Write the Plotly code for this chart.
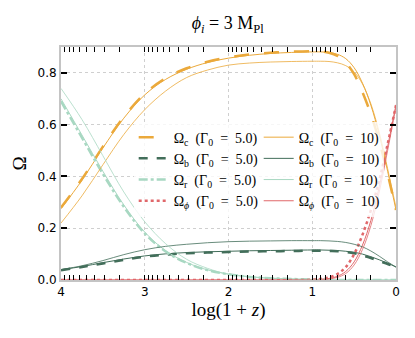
import numpy as np
import plotly.graph_objects as go

# log(1+z) sample points
log_1pz = [4, 3.75, 3.5, 3.25, 3, 2.75, 2.5, 2.25, 2, 1.75, 1.5, 1.25, 1,
           0.9, 0.8, 0.7, 0.6, 0.5, 0.4, 0.3, 0.2, 0.1, 0]

# Gamma_0 = 5.0 run (thick, broken lines)
omega_c_g5 = [0.28, 0.39, 0.515, 0.63, 0.72, 0.78, 0.818, 0.843, 0.86, 0.871, 0.878, 0.882, 0.884,
              0.883, 0.878, 0.866, 0.84, 0.795, 0.725, 0.64, 0.535, 0.41, 0.27]
omega_b_g5 = [0.038, 0.05, 0.064, 0.078, 0.09, 0.098, 0.103, 0.106, 0.108, 0.11, 0.111, 0.112, 0.113,
              0.113, 0.112, 0.111, 0.108, 0.103, 0.095, 0.085, 0.073, 0.062, 0.05]
omega_r_g5 = [0.69, 0.55, 0.41, 0.283, 0.18, 0.11, 0.066, 0.038, 0.022, 0.012, 0.007, 0.004, 0.002,
              0.001, 0.001, 0, 0, 0, 0, 0, 0, 0, 0]
omega_phi_g5 = [0, 0, 0, 0, 0, 0, 0, 0, 0, 0, 0, 0, 0.001,
                0.004, 0.01, 0.023, 0.05, 0.1, 0.175, 0.27, 0.385, 0.525, 0.675]

# Gamma_0 = 10 run (thin solid)
omega_c_g10 = [0.275, 0.385, 0.51, 0.625, 0.715, 0.775, 0.814, 0.84, 0.857, 0.868, 0.875, 0.879, 0.881,
               0.881, 0.879, 0.872, 0.855, 0.82, 0.76, 0.675, 0.56, 0.42, 0.27]
omega_b_g10 = [0.04, 0.052, 0.067, 0.081, 0.093, 0.101, 0.106, 0.109, 0.111, 0.113, 0.114, 0.115, 0.116,
               0.116, 0.115, 0.114, 0.111, 0.107, 0.1, 0.09, 0.078, 0.065, 0.05]
omega_r_g10 = [0.7, 0.56, 0.42, 0.29, 0.185, 0.113, 0.068, 0.039, 0.023, 0.013, 0.007, 0.004, 0.002,
               0.001, 0.001, 0, 0, 0, 0, 0, 0, 0, 0]
omega_phi_g10 = [0, 0, 0, 0, 0, 0, 0, 0, 0, 0, 0, 0, 0,
                 0.002, 0.006, 0.014, 0.033, 0.07, 0.135, 0.23, 0.36, 0.515, 0.677]

# extra thin solid run (no legend entry)
omega_c_alt = [0.22, 0.325, 0.445, 0.562, 0.658, 0.73, 0.782, 0.811, 0.83, 0.838, 0.842, 0.844, 0.845,
               0.845, 0.844, 0.839, 0.828, 0.804, 0.757, 0.68, 0.57, 0.43, 0.28]
omega_b_alt = [0.04, 0.055, 0.075, 0.098, 0.117, 0.13, 0.138, 0.144, 0.148, 0.15, 0.151, 0.152, 0.152,
               0.152, 0.151, 0.149, 0.145, 0.138, 0.128, 0.112, 0.092, 0.07, 0.05]
omega_r_alt = [0.74, 0.62, 0.48, 0.34, 0.225, 0.14, 0.08, 0.045, 0.022, 0.012, 0.007, 0.004, 0.002,
               0.001, 0, 0, 0, 0, 0, 0, 0, 0, 0]
omega_phi_alt = [0, 0, 0, 0, 0, 0, 0, 0, 0, 0, 0, 0, 0,
                 0, 0.004, 0.01, 0.025, 0.058, 0.118, 0.21, 0.34, 0.5, 0.67]

y_ticks = [0.0, 0.2, 0.4, 0.6, 0.8]
x_ticks = [0, 1, 2, 3, 4]

colors = {"c": "#EBA93B", "b": "#426E5A", "r": "#A8D8C2", "phi": "#E0676A"}
dashes = {"c": "longdash", "b": "dash", "r": "dashdot", "phi": "dot"}
subs = {"c": "c", "b": "b", "r": "r", "phi": "<i>ϕ</i>"}

g5 = {"c": omega_c_g5, "b": omega_b_g5, "r": omega_r_g5, "phi": omega_phi_g5}
g10 = {"c": omega_c_g10, "b": omega_b_g10, "r": omega_r_g10, "phi": omega_phi_g10}
alt = {"c": omega_c_alt, "b": omega_b_alt, "r": omega_r_alt, "phi": omega_phi_alt}

fig = go.Figure()

# extra run sits on a twin x axis that only carries the log-spaced ticks
for key in ["c", "b", "r", "phi"]:
    fig.add_trace(go.Scatter(
        x=log_1pz, y=alt[key], mode="lines", line_shape="spline", xaxis="x2",
        showlegend=False, line={"color": colors[key], "width": 0.8},
    ))

# legend rows: Gamma_0 = 5.0 | Gamma_0 = 10  (en spaces mimic math spacing)
for key in ["c", "b", "r", "phi"]:
    fig.add_trace(go.Scatter(
        x=log_1pz, y=g5[key], mode="lines", line_shape="spline",
        name=f"Ω<sub>{subs[key]}</sub>\u2002(Γ<sub>0</sub>\u2002=\u20025.0)",
        line={"color": colors[key], "width": 2.5, "dash": dashes[key]},
    ))
    fig.add_trace(go.Scatter(
        x=log_1pz, y=g10[key], mode="lines", line_shape="spline",
        name=f"Ω<sub>{subs[key]}</sub>\u2002(Γ<sub>0</sub>\u2002=\u200210)",
        line={"color": colors[key], "width": 1},
    ))

# log-spaced ticks inside each decade
decade_ticks = [k + np.log10(m) for k in range(4) for m in range(1, 10)] + [4]

serif = "Liberation Serif"
# page body adds an 8px offset, so the figure is 8px smaller than the window
fig.update_layout(
    width=407,
    height=330,
    margin={"l": 53, "r": 19, "t": 39, "b": 58},
    plot_bgcolor="white",
    paper_bgcolor="white",
    font={"family": "DejaVu Sans", "size": 12, "color": "black"},
    title={
        "text": "<i>ϕ</i><sub><i>i</i></sub> = 3 M<sub>Pl</sub>",
        "x": 0.54, "xanchor": "center", "y": 0.955, "yanchor": "middle",
        "font": {"family": serif, "size": 18, "color": "black"},
    },
    legend={
        "orientation": "h",
        "entrywidth": 80,
        "entrywidthmode": "pixels",
        "x": 0.217, "xanchor": "left",
        "y": 0.68, "yanchor": "top",
        "bgcolor": "rgba(255,255,255,0.8)",
        "font": {"family": serif, "size": 14, "color": "black"},
        "itemwidth": 30,
    },
    xaxis={
        "range": [4, 0],
        "tickmode": "array",
        "tickvals": x_ticks,
        "ticks": "",
        "showgrid": True,
        "gridcolor": "#cfcfcf",
        "griddash": "dot",
        "zeroline": False,
        "showline": True,
        "linecolor": "#c4c4c4",
        "linewidth": 2,
        "mirror": True,
        "automargin": False,
        "title": {"text": "log(1 + <i>z</i>)", "font": {"family": serif, "size": 19}, "standoff": 0},
    },
    xaxis2={
        "range": [4, 0],
        "overlaying": "x",
        "side": "bottom",
        "tickmode": "array",
        "tickvals": decade_ticks,
        "showticklabels": False,
        "ticks": "inside",
        "ticklen": 5,
        "tickwidth": 1.2,
        "tickcolor": "black",
        "showgrid": False,
        "zeroline": False,
        "showline": False,
        "mirror": "ticks",
        "automargin": False,
    },
    yaxis={
        "range": [0, 0.9],
        "tickmode": "array",
        "tickvals": y_ticks,
        "tickformat": ".1f",
        "ticks": "inside",
        "ticklen": 6,
        "tickwidth": 2,
        "tickcolor": "black",
        "showgrid": True,
        "gridcolor": "#cfcfcf",
        "griddash": "dot",
        "zeroline": False,
        "showline": True,
        "linecolor": "#c4c4c4",
        "linewidth": 2,
        "mirror": "ticks",
        "automargin": False,
        "title": {"text": "Ω", "font": {"family": serif, "size": 19}, "standoff": 6},
    },
)

fig.write_html("out.html")
